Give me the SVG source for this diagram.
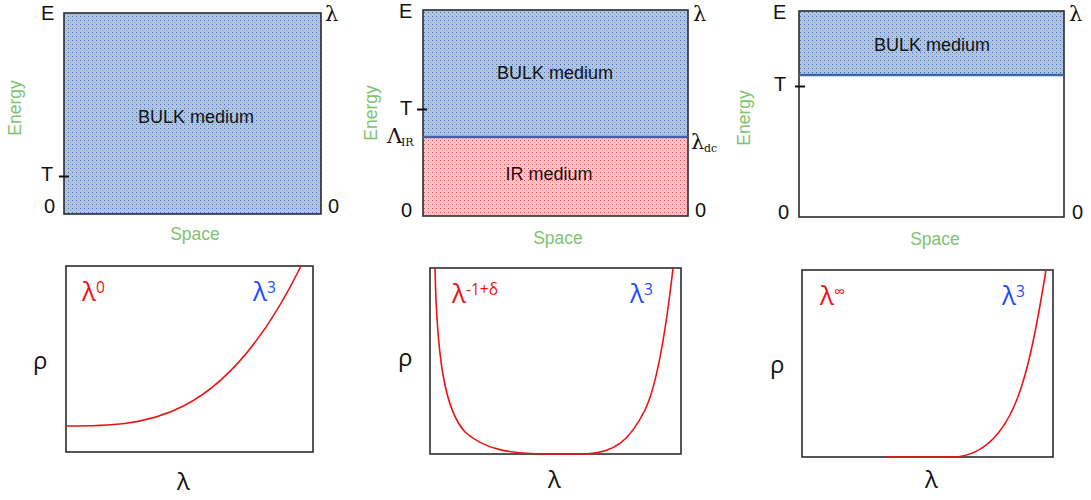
<svg xmlns="http://www.w3.org/2000/svg" width="1091" height="500" viewBox="0 0 1091 500">
<style>
.lab{font-family:"Liberation Sans",Arial,sans-serif;font-size:20px;fill:#111}
.lam{font-family:"DejaVu Serif","Liberation Serif",serif;font-size:21px;fill:#111}
.sub{font-family:"DejaVu Serif","Liberation Serif",serif;font-size:11px;fill:#111}
.grn{font-family:"Liberation Sans",Arial,sans-serif;font-size:17.5px;fill:#7dc36f}
.med{font-family:"Liberation Sans",Arial,sans-serif;font-size:18px;fill:#111}
.box{fill:none;stroke:#2b2b2b;stroke-width:1.6}
.bnd{stroke:#3b66a6;stroke-width:2.5}
.tick{stroke:#111;stroke-width:2}
.crv{fill:none;stroke:#ee1111;stroke-width:1.6}
.pl{font-family:"Open Sans","Noto Sans",sans-serif;font-size:26px}
.ax{font-family:"Open Sans","Noto Sans",sans-serif;font-size:24px;fill:#111}
.sup{font-size:15.5px}
</style>
<defs>
<pattern id="pb" width="4" height="4" patternUnits="userSpaceOnUse">
<rect width="4" height="4" fill="#b2c5df"/>
<rect x="0" y="0" width="1" height="1" fill="#3d6cbd"/>
<rect x="2" y="2" width="1" height="1" fill="#8aa6d0"/>
</pattern>
<pattern id="pr" width="4" height="4" patternUnits="userSpaceOnUse">
<rect width="4" height="4" fill="#f8c8c8"/>
<rect x="0" y="0" width="1" height="1" fill="#e04848"/>
<rect x="2" y="2" width="1" height="1" fill="#f09a9a"/>
</pattern>
</defs>

<g id="panel1">
<rect x="64" y="13" width="257" height="201" fill="url(#pb)"/>
<rect class="box" x="64" y="13" width="257" height="201"/>
<text class="med" x="196" y="123" text-anchor="middle">BULK medium</text>
<text class="lab" x="41" y="20">E</text>
<text class="lam" x="325" y="21">λ</text>
<text class="lab" x="41" y="181">T</text>
<line class="tick" x1="59" y1="176.5" x2="69" y2="176.5"/>
<text class="lab" x="44" y="213">0</text>
<text class="lab" x="328" y="213">0</text>
<text class="grn" transform="translate(21,108) rotate(-90)" text-anchor="middle">Energy</text>
<text class="grn" x="195" y="240" text-anchor="middle">Space</text>
</g>

<g id="panel2">
<rect x="423" y="10" width="265" height="127" fill="url(#pb)"/>
<rect x="423" y="137" width="265" height="79" fill="url(#pr)"/>
<rect class="box" x="423" y="10" width="265" height="206"/>
<line class="bnd" x1="423" y1="137" x2="688" y2="137"/>
<text class="med" x="555" y="79" text-anchor="middle">BULK medium</text>
<text class="med" x="549" y="180" text-anchor="middle">IR medium</text>
<text class="lab" x="399" y="18">E</text>
<text class="lam" x="693" y="21">λ</text>
<text class="lab" x="400" y="115">T</text>
<line class="tick" x1="417" y1="109.5" x2="427" y2="109.5"/>
<text class="lam" x="387" y="143">Λ</text><text class="sub" x="401" y="146">IR</text>
<text class="lam" x="691" y="149">λ</text><text class="sub" x="704" y="152">dc</text>
<text class="lab" x="401" y="217">0</text>
<text class="lab" x="695" y="217">0</text>
<text class="grn" transform="translate(377,113) rotate(-90)" text-anchor="middle">Energy</text>
<text class="grn" x="558" y="244" text-anchor="middle">Space</text>
</g>

<g id="panel3">
<rect x="799" y="11" width="265" height="64" fill="url(#pb)"/>
<rect class="box" x="799" y="11" width="265" height="206"/>
<line class="bnd" x1="799" y1="75" x2="1064" y2="75"/>
<text class="med" x="932" y="51" text-anchor="middle">BULK medium</text>
<text class="lab" x="773" y="19">E</text>
<text class="lam" x="1069" y="21">λ</text>
<text class="lab" x="774" y="91">T</text>
<line class="tick" x1="795" y1="86.5" x2="805" y2="86.5"/>
<text class="lab" x="778" y="219">0</text>
<text class="lab" x="1072" y="219">0</text>
<text class="grn" transform="translate(750,118) rotate(-90)" text-anchor="middle">Energy</text>
<text class="grn" x="935" y="245" text-anchor="middle">Space</text>
</g>

<g id="plot1">
<rect class="box" x="66" y="266" width="247" height="186"/>
<path class="crv" d="M66,426 C144.3,426 222.7,426 301,266"/>
<text class="pl" x="82" y="301" fill="#ee1111">λ<tspan class="sup" dy="-8">0</tspan></text>
<text class="pl" x="253" y="301" fill="#1a4dff">λ<tspan class="sup" dy="-8">3</tspan></text>
<text class="ax" x="33" y="369">ρ</text>
<text class="ax" x="177" y="490">λ</text>
</g>

<g id="plot2">
<rect class="box" x="430" y="268" width="251" height="186"/>
<path class="crv" d="M435,268 C437,360 445,410 465,432 C485,450 510,453 540,454 L585,454 C615,453 630,440 645,410 C657,385 666,330 673,268"/>
<text class="pl" x="452" y="303" fill="#ee1111">λ<tspan class="sup" dy="-8">-1+δ</tspan></text>
<text class="pl" x="630" y="303" fill="#1a4dff">λ<tspan class="sup" dy="-8">3</tspan></text>
<text class="ax" x="398" y="366">ρ</text>
<text class="ax" x="548" y="488">λ</text>
</g>

<g id="plot3">
<rect class="box" x="802" y="270" width="251" height="187"/>
<path class="crv" d="M885,457 L955,457 C985,455 1010,430 1025,375 C1035,340 1041,300 1046,270"/>
<text class="pl" x="820" y="305" fill="#ee1111">λ<tspan class="sup" dy="-8">∞</tspan></text>
<text class="pl" x="1002" y="305" fill="#1a4dff">λ<tspan class="sup" dy="-8">3</tspan></text>
<text class="ax" x="770" y="373">ρ</text>
<text class="ax" x="925" y="488">λ</text>
</g>
<g id="connectors"/>
</svg>
